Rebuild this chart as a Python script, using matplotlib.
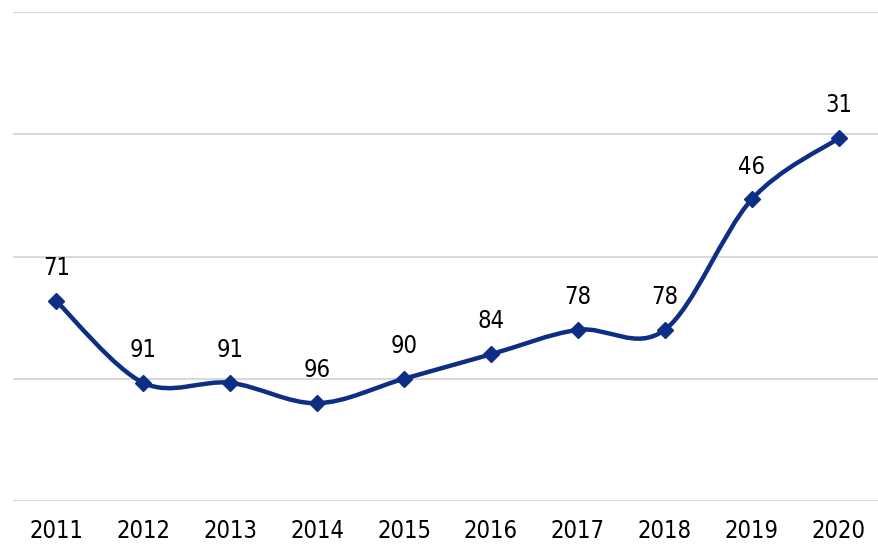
import numpy as np
import matplotlib.pyplot as plt
from matplotlib.path import Path
from matplotlib.patches import PathPatch
from matplotlib import font_manager

years = ['2011', '2012', '2013', '2014', '2015', '2016', '2017', '2018', '2019', '2020']
ranks = [71, 91, 91, 96, 90, 84, 78, 78, 46, 31]

line_color = '#0e2d84'
plt.rcParams['font.family'] = ['DejaVu Sans']
plt.rcParams['font.stretch'] = 'condensed'

fig = plt.figure(figsize=(8.79, 5.44), dpi=100)
ax = fig.add_axes([13 / 879, (544 - 501) / 544, 869 / 879, 489 / 544])

x = np.arange(len(years))
y = np.array(ranks, dtype=float)

# smoothed line like excel: cubic bezier through points (catmull-rom)
verts = [(x[0], y[0])]
codes = [Path.MOVETO]
for i in range(len(x) - 1):
    p0 = np.array([x[max(i - 1, 0)], y[max(i - 1, 0)]])
    p1 = np.array([x[i], y[i]])
    p2 = np.array([x[i + 1], y[i + 1]])
    p3 = np.array([x[min(i + 2, len(x) - 1)], y[min(i + 2, len(x) - 1)]])
    c1 = p1 + (p2 - p0) / 6.0
    c2 = p2 - (p3 - p1) / 6.0
    verts += [tuple(c1), tuple(c2), tuple(p2)]
    codes += [Path.CURVE4] * 3
ax.add_patch(PathPatch(Path(verts, codes), facecolor='none', edgecolor=line_color,
                       lw=3.2, capstyle='round', joinstyle='round', zorder=3))
ax.plot(x, y, linestyle='none', marker='D', ms=8, color=line_color, zorder=4)

for xi, yi, r in zip(x, y, ranks):
    ax.annotate(str(r), (xi, yi), xytext=(0, 15), textcoords='offset points',
                ha='center', va='bottom', fontsize=17, color='black',
                fontstretch='condensed')

for g in [0, 30, 60, 90, 120]:
    ax.axhline(g, color='#d9d9d9', lw=1.5, zorder=1)

ax.set_xlim(-0.5, len(years) - 0.5)
ax.set_ylim(120, 0)
ax.set_xticks(x)
ax.set_xticklabels(years, fontsize=17, fontstretch='condensed')
ax.tick_params(axis='x', length=0, pad=13)
ax.set_yticks([])
for s in ax.spines.values():
    s.set_visible(False)

fig.savefig('out.png', dpi=100)
